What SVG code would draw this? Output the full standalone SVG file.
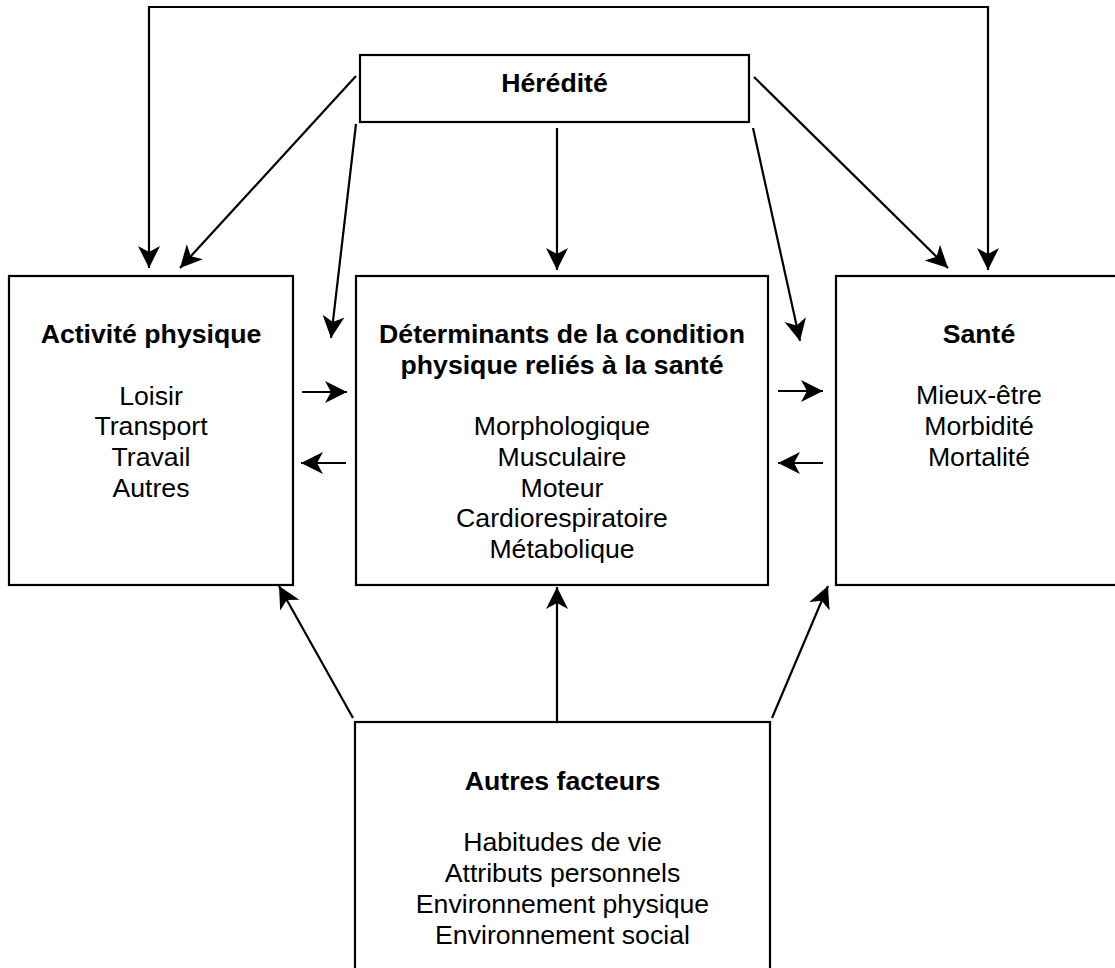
<svg xmlns="http://www.w3.org/2000/svg" width="1115" height="968" viewBox="0 0 1115 968">
<style>
.box{fill:#fff;stroke:#000;stroke-width:2.2}
.t{font-family:"Liberation Sans",Arial,Helvetica,sans-serif;font-size:26.67px;fill:#000;text-anchor:middle}
.b{font-weight:bold}
.c{fill:none;stroke:#000;stroke-width:2.2;marker-end:url(#ah)}
</style>
<defs>
<marker id="ah" viewBox="-23 -12 24 24" markerWidth="24" markerHeight="24" refX="0" refY="0" orient="auto" markerUnits="userSpaceOnUse">
<path d="M0,0 L-22,-11 L-16,0 L-22,11 Z" fill="#000"/>
</marker>
<marker id="ahs" viewBox="-23 -12 24 24" markerWidth="24" markerHeight="24" refX="0" refY="0" orient="auto-start-reverse" markerUnits="userSpaceOnUse">
<path d="M0,0 L-22,-11 L-16,0 L-22,11 Z" fill="#000"/>
</marker>
</defs>
<rect width="1115" height="968" fill="#fff"/>
<g id="connectors">
<path class="c" d="M149,268 V7 H988 V270" style="marker-start:url(#ahs);marker-end:url(#ahs)"/>
<path class="c" d="M356,76 L180,268"/>
<path class="c" d="M356,124 L331,338"/>
<path class="c" d="M557,128 L557,270"/>
<path class="c" d="M753,128 L800,341"/>
<path class="c" d="M754,77 L948,268"/>
<path class="c" d="M302,392 L347,392"/>
<path class="c" d="M346,463 L301,463"/>
<path class="c" d="M778,391 L823,391"/>
<path class="c" d="M823,463 L778,463"/>
<path class="c" d="M353,718 L279,586"/>
<path class="c" d="M557,722 L557,587"/>
<path class="c" d="M772,718 L828,586"/>
</g>
<g id="heredite">
<rect class="box" x="360" y="55" width="389" height="67"/>
<text class="t b" x="554.5" y="92">Hérédité</text>
</g>
<g id="activite">
<rect class="box" x="9" y="276" width="284" height="309"/>
<text class="t b" x="151" y="343">Activité physique</text>
<text class="t" x="151" y="404.5">Loisir</text>
<text class="t" x="151" y="435.2">Transport</text>
<text class="t" x="151" y="465.9">Travail</text>
<text class="t" x="151" y="496.6">Autres</text>
</g>
<g id="determinants">
<rect class="box" x="356" y="276" width="412" height="309"/>
<text class="t b" x="562" y="343">Déterminants de la condition</text>
<text class="t b" x="562" y="373.7">physique reliés à la santé</text>
<text class="t" x="562" y="435.1">Morphologique</text>
<text class="t" x="562" y="465.8">Musculaire</text>
<text class="t" x="562" y="496.5">Moteur</text>
<text class="t" x="562" y="527.2">Cardiorespiratoire</text>
<text class="t" x="562" y="557.9">Métabolique</text>
</g>
<g id="sante">
<rect class="box" x="836" y="276" width="290" height="309"/>
<text class="t b" x="979" y="343">Santé</text>
<text class="t" x="979" y="404.4">Mieux-être</text>
<text class="t" x="979" y="435.1">Morbidité</text>
<text class="t" x="979" y="465.8">Mortalité</text>
</g>
<g id="autres">
<rect class="box" x="355" y="722" width="415" height="260"/>
<text class="t b" x="562.5" y="790">Autres facteurs</text>
<text class="t" x="562.5" y="851.4">Habitudes de vie</text>
<text class="t" x="562.5" y="882.1">Attributs personnels</text>
<text class="t" x="562.5" y="912.8">Environnement physique</text>
<text class="t" x="562.5" y="943.5">Environnement social</text>
</g>
</svg>
